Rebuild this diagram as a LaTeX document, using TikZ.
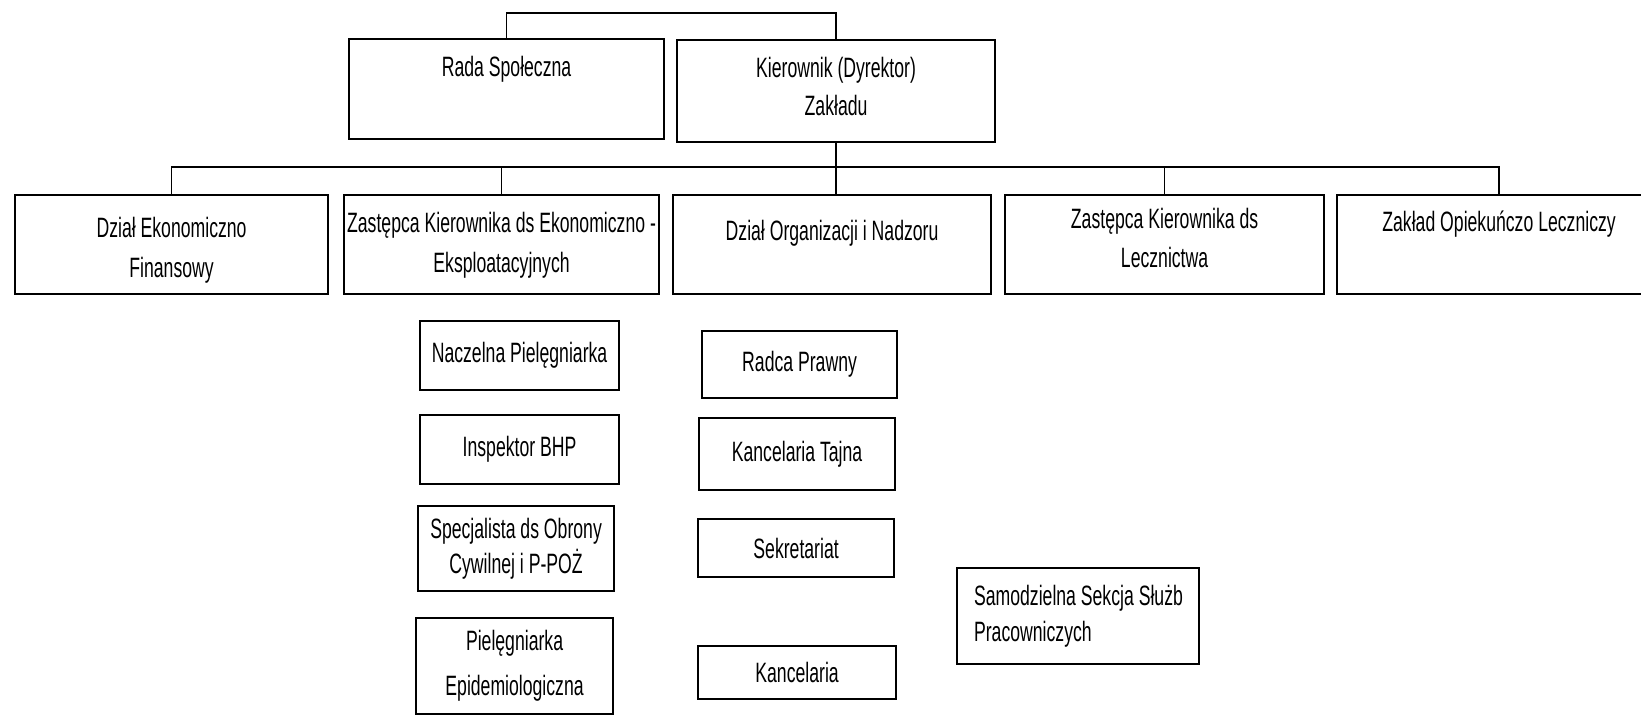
\documentclass[tikz,border=0pt]{standalone}
\usepackage{fontspec}
\setmainfont{Liberation Sans}[FakeStretch=0.63]
\usetikzlibrary{calc}
\tikzset{unit/.style={draw, line width=1.6pt, anchor=north west, inner sep=0pt, font=\fontsize{21pt}{30pt}\selectfont}}
\tikzset{link/.style={line width=1pt}}
\newcommand{\toptext}[4]{\parbox[c][#2][t]{#1}{\centering\vspace*{#3}#4\par}}
\newcommand{\midtext}[3]{\parbox[c][#2][c]{#1}{\centering #3\par}}

\begin{document}
\begin{tikzpicture}[x=0.75pt,y=0.75pt,yscale=-1]
\clip (0,0) rectangle (1641,717);

%Shape: Rectangle [id:rada]
\node[unit] (rada) at (348,38) {\toptext{236.25pt}{75pt}{12.5pt}{Rada Społeczna}};
%Shape: Rectangle [id:kier]
\node[unit] (kier) at (676,39) {\toptext{238.5pt}{76.5pt}{13pt}{\fontsize{21pt}{28pt}\selectfont Kierownik (Dyrektor)\\Zakładu}};

%Shape: Rectangle [id:ekon]
\node[unit] (ekon) at (14,194) {\toptext{234.75pt}{74.25pt}{16.5pt}{Dział Ekonomiczno\\Finansowy}};
%Shape: Rectangle [id:zast]
\node[unit] (zast) at (343,194) {\toptext{236.25pt}{74.25pt}{13pt}{Zastępca Kierownika ds Ekonomiczno -\\Eksploatacyjnych}};
%Shape: Rectangle [id:org]
\node[unit] (org) at (672,194) {\toptext{238.5pt}{74.25pt}{18.5pt}{Dział Organizacji i Nadzoru}};
%Shape: Rectangle [id:lecz]
\node[unit] (lecz) at (1004,194) {\toptext{239.25pt}{74.25pt}{10pt}{\fontsize{21pt}{29pt}\selectfont Zastępca Kierownika ds\\Lecznictwa}};
%Shape: Rectangle [id:opiek]
\node[unit] (opiek) at (1336,194) {\toptext{243pt}{74.25pt}{12pt}{Zakład Opiekuńczo Leczniczy}};

%Shape: Rectangle [id:naczelna]
\node[unit] (naczelna) at (419,320) {\midtext{149.25pt}{51.75pt}{Naczelna Pielęgniarka}};
%Shape: Rectangle [id:bhp]
\node[unit] (bhp) at (419,414) {\midtext{149.25pt}{51.75pt}{Inspektor BHP}};
%Shape: Rectangle [id:obrona]
\node[unit] (obrona) at (417,505) {\midtext{147pt}{63.75pt}{\fontsize{21pt}{26pt}\selectfont Specjalista ds Obrony\\Cywilnej i P-POŻ}};
%Shape: Rectangle [id:epid]
\node[unit] (epid) at (415,617) {\midtext{147.75pt}{72pt}{\fontsize{21pt}{34pt}\selectfont Pielęgniarka\\Epidemiologiczna}};

%Shape: Rectangle [id:radca]
\node[unit] (radca) at (701,330) {\midtext{146.25pt}{50.25pt}{Radca Prawny}};
%Shape: Rectangle [id:tajna]
\node[unit] (tajna) at (698,417) {\midtext{147pt}{54pt}{Kancelaria Tajna}};
%Shape: Rectangle [id:sekret]
\node[unit] (sekret) at (697,518) {\midtext{147pt}{43.5pt}{Sekretariat}};
%Shape: Rectangle [id:kanc]
\node[unit] (kanc) at (697,645) {\midtext{148.5pt}{39.75pt}{Kancelaria}};

%Shape: Rectangle [id:kadry]
\node[unit] (kadry) at (956,567) {\parbox[c][72pt][c]{181.5pt}{\raggedright\leftskip=12.75pt\fontsize{21pt}{27pt}\selectfont Samodzielna Sekcja Służb\\Pracowniczych\par}};

%Straight Lines [id:top]
\draw[link] (rada.north) -- ++(0,-25) -| (kier.north);
%Straight Lines [id:bus]
\coordinate (bus) at (0,167);
\draw[link] (kier.south) -- (kier.south |- org.north);
\draw[link] (ekon.north) -- (ekon.north |- bus) -- (opiek.north |- bus) -- (opiek.north);
\draw[link] (zast.north) -- (zast.north |- bus);
\draw[link] (lecz.north) -- (lecz.north |- bus);
\end{tikzpicture}
\end{document}
